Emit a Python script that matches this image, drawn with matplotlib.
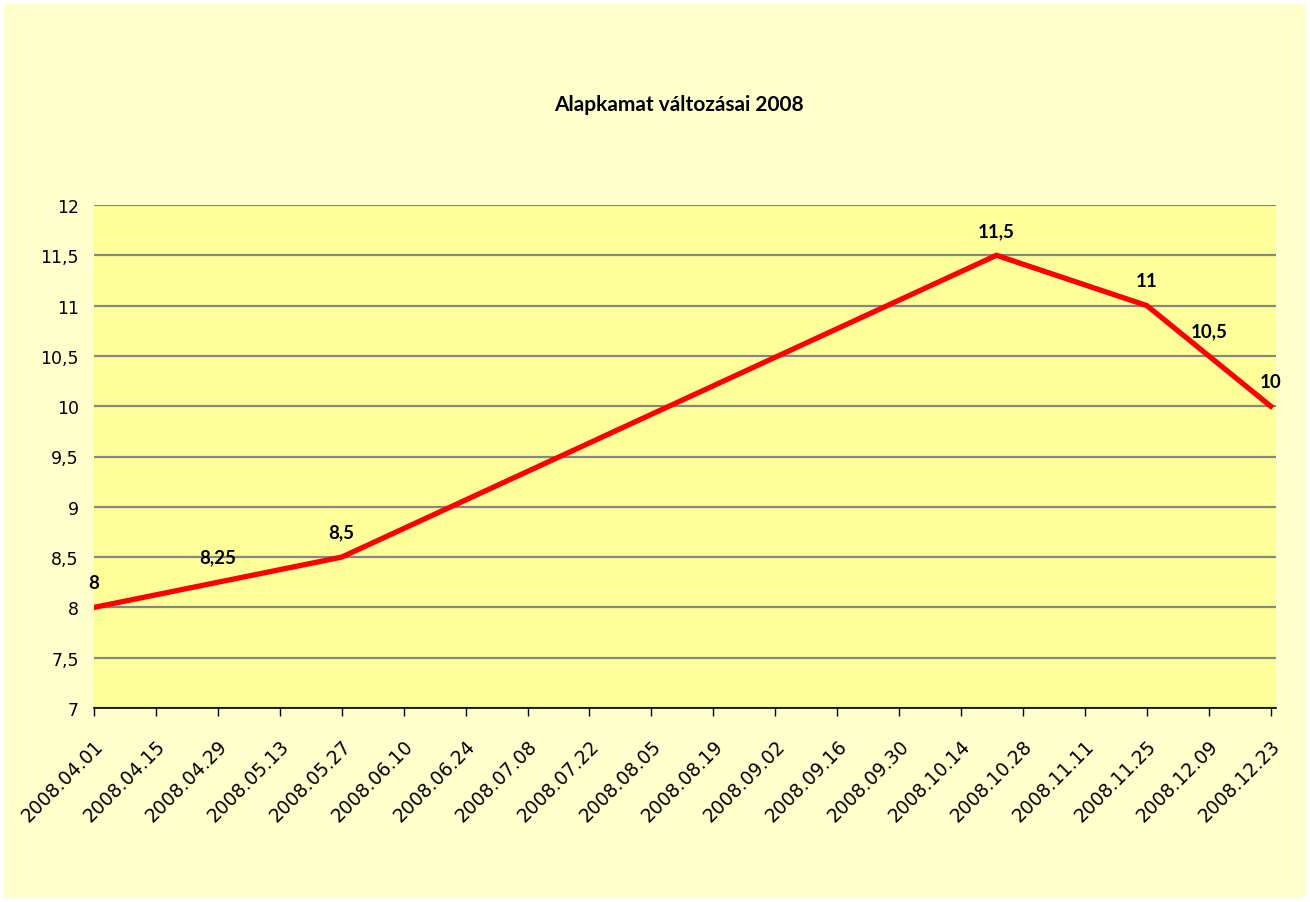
import datetime as dt
import matplotlib
matplotlib.use('Agg')
import matplotlib.pyplot as plt
import matplotlib.dates as mdates
from matplotlib.ticker import FuncFormatter
from matplotlib.patches import Rectangle

# Data (date, base rate %)
dates = ['2008.04.01', '2008.04.29', '2008.05.27', '2008.10.22',
         '2008.11.25', '2008.12.09', '2008.12.23']
rates = [8, 8.25, 8.5, 11.5, 11, 10.5, 10]
title = 'Alapkamat változásai 2008'

x = [dt.datetime.strptime(d, '%Y.%m.%d') for d in dates]

plt.rcParams['font.family'] = ['Lato', 'DejaVu Sans']
tick_font = ['DejaVu Sans']

fig = plt.figure(figsize=(13.1, 9.03), dpi=100)
fig.patch.set_facecolor('white')
# chart area background
fig.patches.append(Rectangle((4 / 1310, 4 / 903), 1302 / 1310, 894 / 903,
                             transform=fig.transFigure, facecolor='#FFFFCC',
                             edgecolor='none', zorder=-5))

ax = fig.add_axes([94 / 1310, 194 / 903, 1182 / 1310, 503 / 903])
ax.set_zorder(2)
ax.set_facecolor('#FFFF99')

ax.plot(x, rates, color='#FF0000', linewidth=3.8, solid_joinstyle='miter', zorder=3)

for xi, yi in zip(x, rates):
    lbl = f'{yi:g}'.replace('.', ',')
    ax.annotate(lbl, (xi, yi), xytext=(0, 18), textcoords='offset points',
                ha='center', va='center', fontsize=13.5, fontweight='bold', zorder=4)

# axes limits and ticks
start = dt.datetime(2008, 4, 1)
ax.set_xlim(start, start + dt.timedelta(days=267.2))
ax.set_ylim(7, 12)
ax.set_yticks([7, 7.5, 8, 8.5, 9, 9.5, 10, 10.5, 11, 11.5, 12])
ax.yaxis.set_major_formatter(FuncFormatter(lambda v, p: f'{v:g}'.replace('.', ',')))

xticks = [start + dt.timedelta(days=14 * i) for i in range(20)]
ax.set_xticks(xticks)
ax.xaxis.set_major_formatter(mdates.DateFormatter('%Y.%m.%d'))
plt.setp(ax.get_xticklabels(), rotation=45, ha='right', va='top',
         rotation_mode='anchor', fontsize=13.5, family=tick_font)
plt.setp(ax.get_yticklabels(), fontsize=12.5, family=tick_font)

ax.tick_params(axis='y', length=0, pad=11)
ax.tick_params(axis='x', direction='out', length=6, width=1, color='black', pad=14)

ax.grid(axis='y', color='#868686', linewidth=1.6)
ax.set_axisbelow(True)
for s in ['top', 'right', 'left']:
    ax.spines[s].set_visible(False)
ax.spines['bottom'].set_color('black')
ax.spines['bottom'].set_linewidth(1.2)

fig.text(0.518, 1 - 105 / 903, title, ha='center', va='center',
         fontsize=15, fontweight='bold')

fig.savefig('out.png', dpi=100, facecolor=fig.get_facecolor())
